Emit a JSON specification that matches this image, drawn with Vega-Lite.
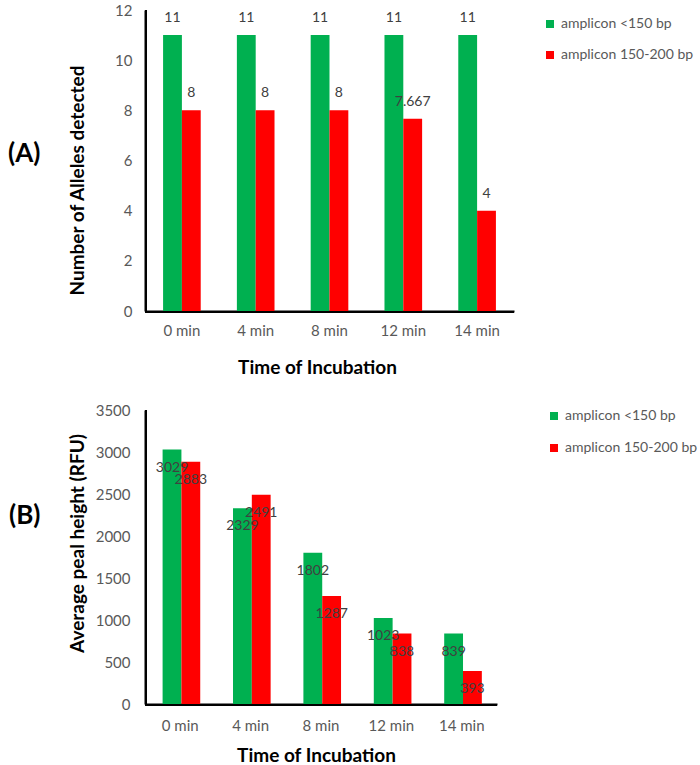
{
  "$schema": "https://vega.github.io/schema/vega-lite/v6.json",
  "padding": {"left": 8, "top": 3, "right": 0, "bottom": 0},
  "background": "white",
  "config": {
    "font": "Lato",
    "view": {"stroke": null},
    "axis": {"grid": false, "ticks": false, "domain": true, "domainColor": "#000000", "domainWidth": 2, "labelColor": "#595959", "labelFontSize": 15, "labelFont": "Lato", "titleFont": "Lato", "titleFontWeight": "bold", "titleColor": "#000000"},
    "legend": {"labelFontSize": 14, "labelColor": "#595959", "labelFont": "Lato", "symbolType": "square", "symbolSize": 64, "symbolStrokeWidth": 0, "title": null, "labelLimit": 300}
  },
  "datasets": {
    "alleles": [
      {"time": "0 min", "amplicon": "amplicon <150 bp", "value": 11},
      {"time": "0 min", "amplicon": "amplicon 150-200 bp", "value": 8},
      {"time": "4 min", "amplicon": "amplicon <150 bp", "value": 11},
      {"time": "4 min", "amplicon": "amplicon 150-200 bp", "value": 8},
      {"time": "8 min", "amplicon": "amplicon <150 bp", "value": 11},
      {"time": "8 min", "amplicon": "amplicon 150-200 bp", "value": 8},
      {"time": "12 min", "amplicon": "amplicon <150 bp", "value": 11},
      {"time": "12 min", "amplicon": "amplicon 150-200 bp", "value": 7.667},
      {"time": "14 min", "amplicon": "amplicon <150 bp", "value": 11},
      {"time": "14 min", "amplicon": "amplicon 150-200 bp", "value": 4}
    ],
    "peaks": [
      {"time": "0 min", "amplicon": "amplicon <150 bp", "value": 3029},
      {"time": "0 min", "amplicon": "amplicon 150-200 bp", "value": 2883},
      {"time": "4 min", "amplicon": "amplicon <150 bp", "value": 2329},
      {"time": "4 min", "amplicon": "amplicon 150-200 bp", "value": 2491},
      {"time": "8 min", "amplicon": "amplicon <150 bp", "value": 1802},
      {"time": "8 min", "amplicon": "amplicon 150-200 bp", "value": 1287},
      {"time": "12 min", "amplicon": "amplicon <150 bp", "value": 1023},
      {"time": "12 min", "amplicon": "amplicon 150-200 bp", "value": 838},
      {"time": "14 min", "amplicon": "amplicon <150 bp", "value": 839},
      {"time": "14 min", "amplicon": "amplicon 150-200 bp", "value": 393}
    ]
  },
  "spacing": 26,
  "resolve": {"scale": {"color": "independent"}, "legend": {"color": "independent"}},
  "vconcat": [
    {
      "width": 369,
      "height": 301,
      "title": {"text": "(A)", "orient": "left", "angle": 0, "fontSize": 26, "fontWeight": "bold", "color": "#000000", "offset": 12, "dy": -20, "font": "Lato"},
      "data": {"name": "alleles"},
      "layer": [
        {
          "mark": {"type": "bar"},
          "encoding": {
            "x": {"field": "time", "type": "nominal", "sort": ["0 min", "4 min", "8 min", "12 min", "14 min"], "scale": {"paddingInner": 0.49, "paddingOuter": 0.245}, "axis": {"labelAngle": 0, "labelPadding": 12, "title": "Time of Incubation", "titleFontSize": 19, "titlePadding": 20, "titleX": 172}},
            "xOffset": {"field": "amplicon", "type": "nominal", "sort": ["amplicon <150 bp", "amplicon 150-200 bp"]},
            "y": {"field": "value", "type": "quantitative", "scale": {"domain": [0, 12]}, "axis": {"values": [0, 2, 4, 6, 8, 10, 12], "format": "d", "labelPadding": 13, "title": "Number of Alleles detected", "titleFontSize": 19, "titlePadding": 27, "titleY": 170}},
            "color": {"field": "amplicon", "type": "nominal", "sort": ["amplicon <150 bp", "amplicon 150-200 bp"], "scale": {"range": ["#00B050", "#FF0000"]}, "legend": {"orient": "none", "legendX": 398, "legendY": 7, "rowPadding": 17}}
          }
        },
        {
          "mark": {"type": "text", "baseline": "middle", "dy": -17, "fontSize": 14, "color": "#404040"},
          "encoding": {
            "x": {"field": "time", "type": "nominal", "sort": ["0 min", "4 min", "8 min", "12 min", "14 min"]},
            "xOffset": {"field": "amplicon", "type": "nominal", "sort": ["amplicon <150 bp", "amplicon 150-200 bp"]},
            "y": {"field": "value", "type": "quantitative"},
            "text": {"field": "value", "type": "nominal"}
          }
        },
        {
          "mark": {"type": "rect", "color": "#000000", "opacity": 1},
          "encoding": {"y": {"datum": 0}, "y2": {"datum": -0.08}}
        },
        {
          "mark": {"type": "rect", "color": "#000000", "opacity": 1},
          "encoding": {"x": {"value": 0}, "x2": {"value": 2}, "y": {"datum": -0.08}, "y2": {"datum": 12}}
        }
      ]
    },
    {
      "width": 352,
      "height": 294,
      "title": {"text": "(B)", "orient": "left", "angle": 0, "fontSize": 26, "fontWeight": "bold", "color": "#000000", "offset": 12, "dy": -54, "font": "Lato"},
      "data": {"name": "peaks"},
      "layer": [
        {
          "mark": {"type": "bar"},
          "encoding": {
            "x": {"field": "time", "type": "nominal", "sort": ["0 min", "4 min", "8 min", "12 min", "14 min"], "scale": {"paddingInner": 0.5, "paddingOuter": 0.25}, "axis": {"labelAngle": 0, "labelPadding": 14, "title": "Time of Incubation", "titleFontSize": 19, "titlePadding": 13, "titleX": 171}},
            "xOffset": {"field": "amplicon", "type": "nominal", "sort": ["amplicon <150 bp", "amplicon 150-200 bp"]},
            "y": {"field": "value", "type": "quantitative", "scale": {"domain": [0, 3500]}, "axis": {"values": [0, 500, 1000, 1500, 2000, 2500, 3000, 3500], "format": "d", "labelPadding": 15, "title": "Average peal height (RFU)", "titleFontSize": 19, "titlePadding": 8, "titleY": 133}},
            "color": {"field": "amplicon", "type": "nominal", "sort": ["amplicon <150 bp", "amplicon 150-200 bp"], "scale": {"range": ["#00B050", "#FF0000"]}, "legend": {"orient": "none", "legendX": 402, "legendY": -1, "rowPadding": 18}}
          }
        },
        {
          "mark": {"type": "text", "baseline": "middle", "dy": 18, "fontSize": 14, "color": "#404040"},
          "encoding": {
            "x": {"field": "time", "type": "nominal", "sort": ["0 min", "4 min", "8 min", "12 min", "14 min"]},
            "xOffset": {"field": "amplicon", "type": "nominal", "sort": ["amplicon <150 bp", "amplicon 150-200 bp"]},
            "y": {"field": "value", "type": "quantitative"},
            "text": {"field": "value", "type": "nominal"}
          }
        },
        {
          "mark": {"type": "rect", "color": "#000000", "opacity": 1},
          "encoding": {"y": {"datum": 0}, "y2": {"datum": -24}}
        },
        {
          "mark": {"type": "rect", "color": "#000000", "opacity": 1},
          "encoding": {"x": {"value": 0}, "x2": {"value": 2}, "y": {"datum": -24}, "y2": {"datum": 3500}}
        }
      ]
    }
  ]
}
